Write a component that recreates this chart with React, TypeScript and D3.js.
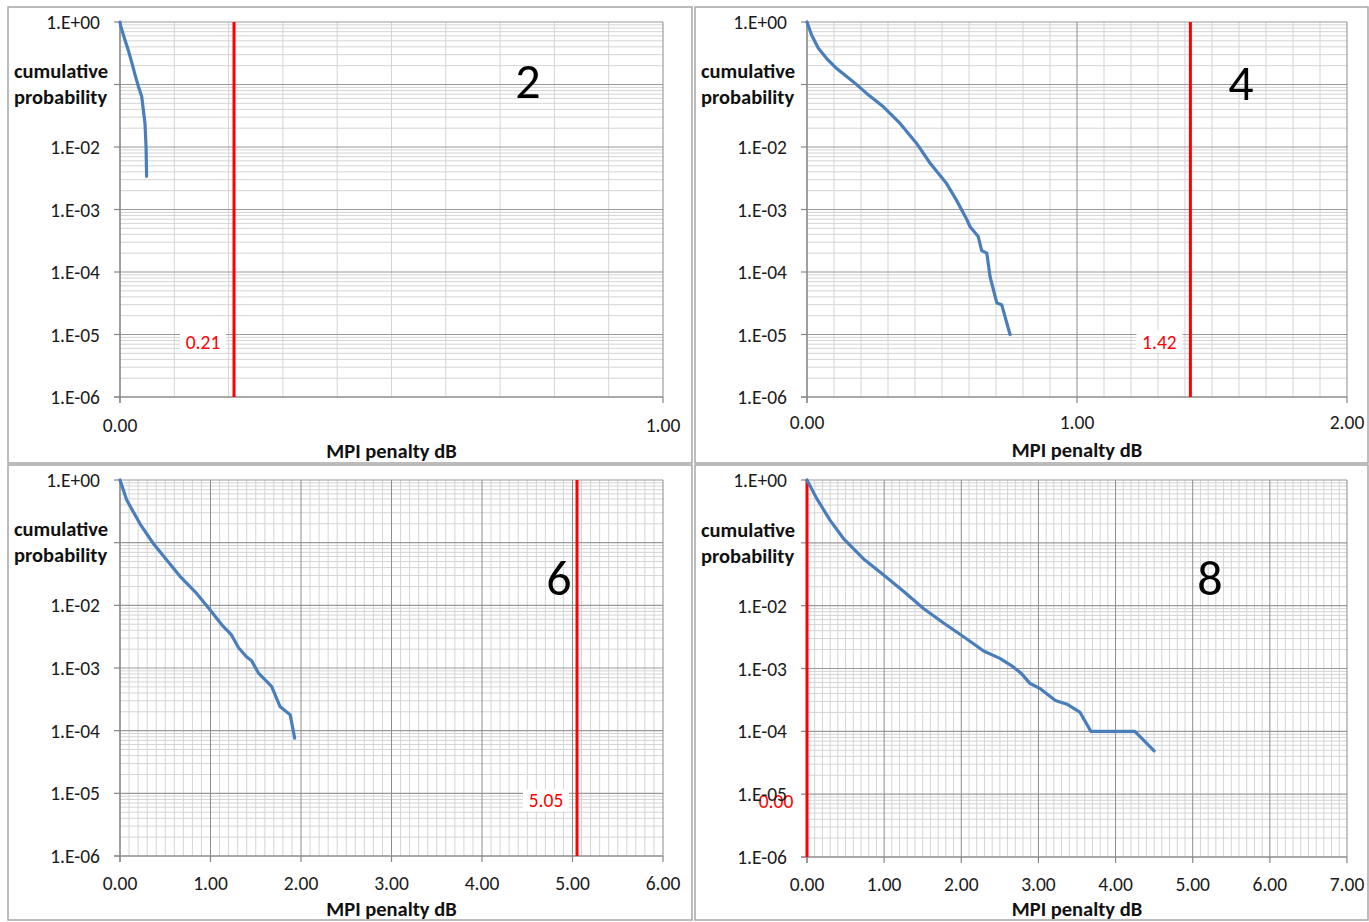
import React from 'react';
import * as d3 from 'd3';

// Cumulative probability of MPI penalty, one series per panel (2, 4, 6, 8 interferers)
const panelNames = ['2', '4', '6', '8'];

const penalty2 = [0, 0.0013, 0.009, 0.015, 0.022, 0.028, 0.034, 0.04, 0.043, 0.046, 0.048, 0.049];
const prob2 = [1, 0.86, 0.52, 0.36, 0.22, 0.14, 0.092, 0.064, 0.039, 0.024, 0.01, 0.0034];

const penalty4 = [0, 0.017, 0.042, 0.073, 0.11, 0.171, 0.221, 0.283, 0.344, 0.406, 0.456, 0.517, 0.554, 0.59, 0.604, 0.634, 0.647, 0.666, 0.678, 0.703, 0.721, 0.752];
const prob4 = [1, 0.62, 0.38, 0.26, 0.18, 0.111, 0.072, 0.044, 0.024, 0.0114, 0.0055, 0.0026, 0.0014, 7.2e-4, 5.3e-4, 3.7e-4, 2.2e-4, 2.0e-4, 8.4e-5, 3.2e-5, 3.0e-5, 1.0e-5];

const penalty6 = [0, 0.074, 0.221, 0.368, 0.516, 0.663, 0.847, 0.994, 1.14, 1.23, 1.31, 1.4, 1.455, 1.53, 1.675, 1.77, 1.88, 1.93];
const prob6 = [1, 0.48, 0.2, 0.097, 0.053, 0.029, 0.0155, 0.0085, 0.0046, 0.0034, 0.0021, 0.0015, 0.0013, 8.3e-4, 5.1e-4, 2.4e-4, 1.8e-4, 7.6e-5];

const penalty8 = [0, 0.125, 0.298, 0.47, 0.73, 0.99, 1.25, 1.51, 1.77, 2.03, 2.29, 2.5, 2.67, 2.78, 2.89, 3.02, 3.22, 3.37, 3.54, 3.68, 4.25, 4.5];
const prob8 = [1, 0.51, 0.23, 0.118, 0.056, 0.031, 0.017, 0.009, 0.0053, 0.0032, 0.0019, 0.00145, 0.00107, 8.3e-4, 5.8e-4, 4.8e-4, 3.1e-4, 2.7e-4, 2.0e-4, 1.0e-4, 1.0e-4, 4.9e-5];

// Penalty limit marked by the red vertical line in each panel
const limitValues = [0.21, 1.42, 5.05, 0.0];
// Upper end of each x axis
const xMaxValues = [1, 2, 6, 7];
// Decade tick labels from 1 down to 1e-6 (the 1e-1 slot sits under the axis title)
const yTickLabels = ['1.E+00', '1.E-01', '1.E-02', '1.E-03', '1.E-04', '1.E-05', '1.E-06'];
const hiddenTickIndex = 1;

const FONT = "Carlito, Lato, 'Open Sans', sans-serif";
const BLUE = '#4a7ebb';
const RED = '#ff0000';
const TICK_FS = 19.5;
const TITLE_FS = 20.5;

type Layout = {
  frame: [number, number, number, number];
  plot: [number, number, number, number];
  xLabelDy: number;
  axisTitleY: number;
  titleX: number;
  titleY: number;
  namePos: [number, number];
};

const layouts: Layout[] = [
  { frame: [8, 7, 692, 463], plot: [120, 22, 663, 397], xLabelDy: 28, axisTitleY: 458, titleX: 14, titleY: 78, namePos: [528, 98] },
  { frame: [695, 7, 1368, 463], plot: [807, 22, 1347, 397], xLabelDy: 25, axisTitleY: 457, titleX: 701, titleY: 78, namePos: [1241, 100] },
  { frame: [8, 465, 692, 920], plot: [120, 480, 663, 856], xLabelDy: 27, axisTitleY: 916, titleX: 14, titleY: 536, namePos: [559, 595] },
  { frame: [695, 465, 1368, 920], plot: [807, 480, 1347, 857], xLabelDy: 27, axisTitleY: 916, titleX: 701, titleY: 537, namePos: [1210, 595] },
];

const series = [
  { xs: penalty2, ps: prob2 },
  { xs: penalty4, ps: prob4 },
  { xs: penalty6, ps: prob6 },
  { xs: penalty8, ps: prob8 },
];

function Panel({ idx }: { idx: number }) {
  const L = layouts[idx];
  const [left, top, right, bottom] = L.plot;
  const xMax = xMaxValues[idx];
  const x = d3.scaleLinear().domain([0, xMax]).range([left, right]);
  const y = d3.scaleLog().domain([1e-6, 1]).range([bottom, top]);

  const decades = d3.range(0, 7).map((k) => Math.pow(10, -k));
  const minorY: number[] = [];
  for (let d = -6; d < 0; d++) {
    for (let k = 2; k <= 9; k++) minorY.push(k * Math.pow(10, d));
  }
  const minorX = d3
    .range(1, Math.round(xMax * 10))
    .map((i) => i / 10)
    .filter((v) => Math.abs(v - Math.round(v)) > 1e-6);
  const majorX = d3.range(0, xMax + 1);
  const fmt = d3.format('.2f');

  const pts: [number, number][] = series[idx].xs.map((v, i) => [v, series[idx].ps[i]]);
  const line = d3
    .line<[number, number]>()
    .x((d) => x(d[0]))
    .y((d) => y(d[1]));

  const limit = limitValues[idx];
  const lx = x(limit);
  const labelY = y(1e-5) + 7;

  const [fx0, fy0, fx1, fy1] = L.frame;

  return (
    <g>
      <rect x={fx0} y={fy0} width={fx1 - fx0} height={fy1 - fy0} fill="#fff" stroke="#a6a6a6" strokeWidth={1.5} />

      {/* minor grid */}
      {minorY.map((v, i) => (
        <line key={'my' + i} x1={left} x2={right} y1={y(v)} y2={y(v)} stroke="#d4d4d4" strokeWidth={1} />
      ))}
      {minorX.map((v, i) => (
        <line key={'mx' + i} x1={x(v)} x2={x(v)} y1={top} y2={bottom} stroke="#d4d4d4" strokeWidth={1} />
      ))}
      {/* major grid */}
      {decades.map((v, i) => (
        <line key={'gy' + i} x1={left} x2={right} y1={y(v)} y2={y(v)} stroke="#9a9a9a" strokeWidth={1.2} />
      ))}
      {majorX.map((v, i) => (
        <line key={'gx' + i} x1={x(v)} x2={x(v)} y1={top} y2={bottom} stroke="#8c8c8c" strokeWidth={1} />
      ))}

      {/* axes and tick marks */}
      <line x1={left} x2={left} y1={top} y2={bottom + 6} stroke="#868686" strokeWidth={1.2} />
      <line x1={left - 6} x2={right} y1={bottom} y2={bottom} stroke="#868686" strokeWidth={1.2} />
      {decades.map((v, i) => (
        <line key={'ty' + i} x1={left - 6} x2={left} y1={y(v)} y2={y(v)} stroke="#868686" strokeWidth={1.2} />
      ))}
      {majorX.map((v, i) => (
        <line key={'tx' + i} x1={x(v)} x2={x(v)} y1={bottom} y2={bottom + 6} stroke="#868686" strokeWidth={1.2} />
      ))}

      {/* limit line */}
      <line x1={lx} x2={lx} y1={top} y2={bottom} stroke={RED} strokeWidth={3} />

      {/* cumulative distribution */}
      <path d={line(pts) || ''} fill="none" stroke={BLUE} strokeWidth={3.2} strokeLinejoin="round" strokeLinecap="round" />

      {/* limit label */}
      <rect x={lx - 54} y={labelY - 11} width={46} height={22} fill="#fff" />
      <text x={lx - 31} y={labelY + 7} textAnchor="middle" fontFamily={FONT} fontSize={TICK_FS} fill={RED}>
        {fmt(limit)}
      </text>

      {/* y tick labels */}
      {decades.map((v, i) =>
        i === hiddenTickIndex ? null : (
          <text key={'ly' + i} x={left - 20} y={y(v) + 7} textAnchor="end" fontFamily={FONT} fontSize={TICK_FS} fill="#1a1a1a">
            {yTickLabels[i]}
          </text>
        )
      )}
      {/* x tick labels */}
      {majorX.map((v, i) => (
        <text key={'lx' + i} x={x(v)} y={bottom + L.xLabelDy + 7} textAnchor="middle" fontFamily={FONT} fontSize={TICK_FS} fill="#1a1a1a">
          {fmt(v)}
        </text>
      ))}

      {/* y axis title */}
      <text x={L.titleX} y={L.titleY} fontFamily={FONT} fontWeight="bold" fontSize={TITLE_FS} fill="#111">
        cumulative
      </text>
      <text x={L.titleX} y={L.titleY + 26} fontFamily={FONT} fontWeight="bold" fontSize={TITLE_FS} fill="#111">
        probability
      </text>

      {/* x axis title */}
      <text x={(left + right) / 2} y={L.axisTitleY} textAnchor="middle" fontFamily={FONT} fontWeight="bold" fontSize={TITLE_FS} fill="#111">
        MPI penalty dB
      </text>

      {/* panel number */}
      <text x={L.namePos[0]} y={L.namePos[1]} textAnchor="middle" fontFamily={FONT} fontSize={50} fill="#000">
        {panelNames[idx]}
      </text>
    </g>
  );
}

export default function App() {
  return (
    <svg width={1369} height={922} style={{ position: 'absolute', left: 0, top: 0, background: '#fff' }}>
      <rect x={0} y={0} width={1369} height={922} fill="#fff" />
      {[0, 1, 2, 3].map((i) => (
        <Panel key={i} idx={i} />
      ))}
    </svg>
  );
}
